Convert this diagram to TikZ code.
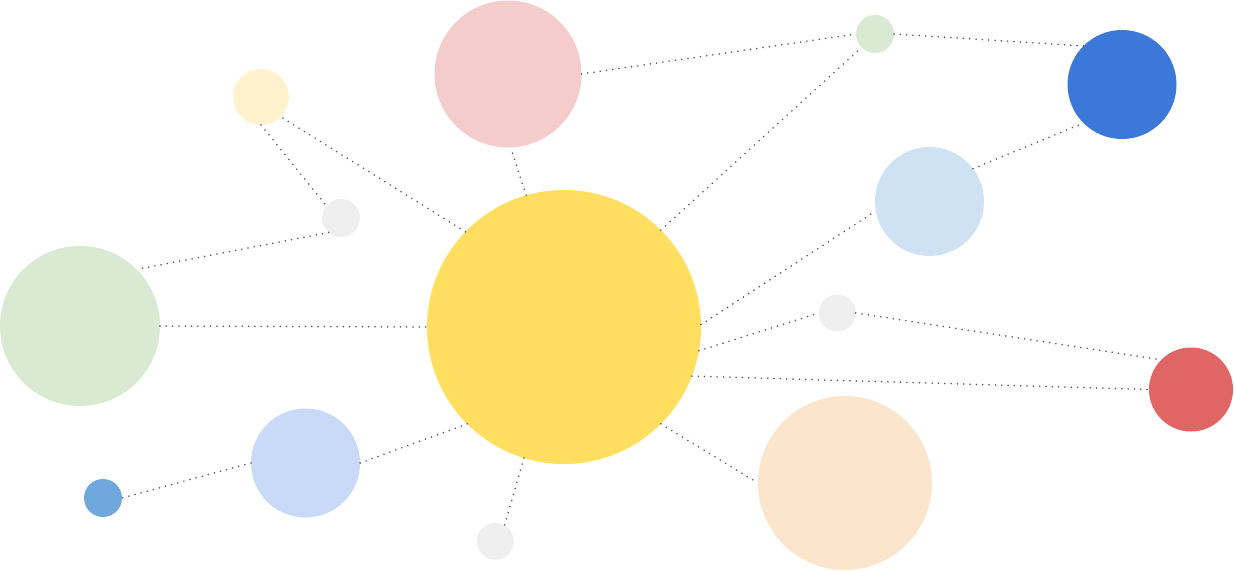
\documentclass[tikz,border=0pt]{standalone}
\usepackage{xcolor}
\usepackage{tikz}
\definecolor{bubsun}{RGB}{255,222,96}
\definecolor{bubrose}{RGB}{244,204,204}
\definecolor{bubcream}{RGB}{255,242,204}
\definecolor{bubgray}{RGB}{239,239,239}
\definecolor{bubsage}{RGB}{217,234,211}
\definecolor{bubsky}{RGB}{201,218,248}
\definecolor{bubnavy}{RGB}{111,168,220}
\definecolor{bubpeach}{RGB}{252,229,205}
\definecolor{bubred}{RGB}{224,102,102}
\definecolor{bubice}{RGB}{207,226,243}
\definecolor{bubblue}{RGB}{60,120,216}
\definecolor{linkgray}{RGB}{85,85,85}

\begin{document}
\begin{tikzpicture}[x=0.02cm,y=-0.02cm,
  bubble/.style 2 args={circle,fill=#1,draw=none,inner sep=0pt,outer sep=0pt,minimum size=#2*0.02cm},
  link/.style={linkgray,line width=1pt,line cap=round,dash pattern=on 0pt off 3.6pt}]
  \useasboundingbox (0,0) rectangle (1234,571);
  \node[bubble={bubsun}{274}] (sun) at (564,327) {};
  \node[bubble={bubrose}{147}] (rose) at (508,74) {};
  \node[bubble={bubcream}{56}] (cream) at (261,97) {};
  \node[bubble={bubgray}{38}] (grayA) at (341,218) {};
  \node[bubble={bubsage}{160}] (sage) at (80,326) {};
  \node[bubble={bubsky}{109}] (sky) at (305.5,463) {};
  \node[bubble={bubnavy}{38}] (navy) at (103,498) {};
  \node[bubble={bubgray}{37}] (grayB) at (495.3,541.3) {};
  \node[bubble={bubpeach}{174}] (peach) at (845,483) {};
  \node[bubble={bubgray}{37}] (grayC) at (837.3,313) {};
  \node[bubble={bubred}{84}] (red) at (1191,389.5) {};
  \node[bubble={bubice}{109}] (ice) at (929.5,201.5) {};
  \node[bubble={bubblue}{109}] (blue) at (1122,84.5) {};
  \node[bubble={bubsage}{38}] (mint) at (875,34) {};

  \draw[link] (sun.106) -- (rose.-88);
  \draw[link] (sun.136) -- (cream.-45);
  \draw[link] (cream.-90) -- (grayA.140);
  \draw[link] (grayA.-130) -- (sage.45);
  \draw[link] (sage.0) -- (sun.180);
  \draw[link] (sun.225) -- (sky.0);
  \draw[link] (sky.180) -- (navy.0);
  \draw[link] (sun.253) -- (grayB.60);
  \draw[link] (sun.-45) -- (peach.180);
  \draw[link] (sun.-21) -- (red.180);
  \draw[link] (sun.-10) -- (grayC.180);
  \draw[link] (grayC.0) -- (red.135);
  \draw[link] (sun.1) -- (ice.190);
  \draw[link] (sun.45) -- (mint.225);
  \draw[link] (rose.0) -- (mint.180);
  \draw[link] (mint.0) -- (blue.135);
  \draw[link] (ice.37) -- (blue.225);
\end{tikzpicture}
\end{document}
